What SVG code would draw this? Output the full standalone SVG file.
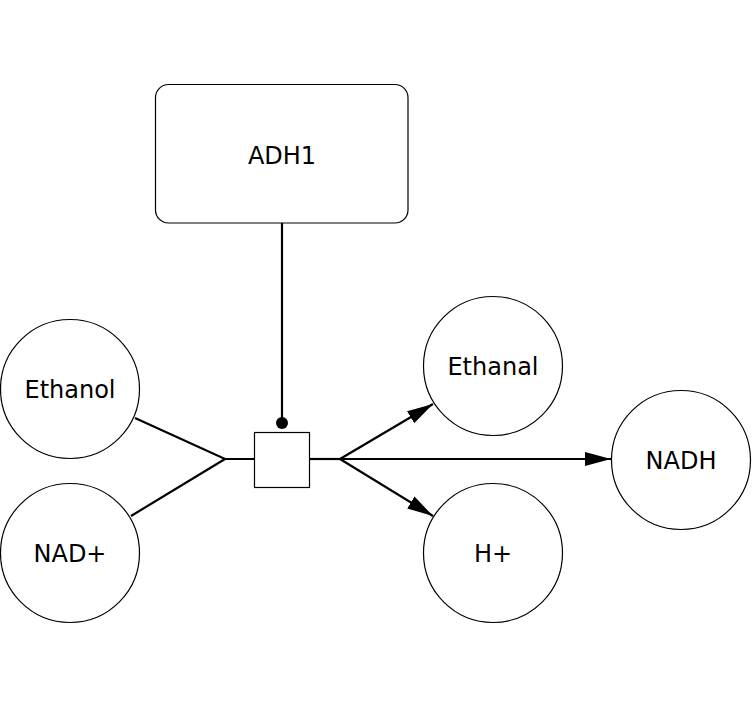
<svg xmlns="http://www.w3.org/2000/svg" width="752" height="708" viewBox="0 0 752 708">
<style>
.node{fill:#fff;stroke:#000;stroke-width:1.2}
.lbl{font-family:"DejaVu Sans",sans-serif;font-size:24px;text-anchor:middle;fill:#000}
.edge{fill:none;stroke:#000;stroke-width:2.2}
</style>
<defs>
<marker id="arr" markerUnits="userSpaceOnUse" markerWidth="28" markerHeight="16" refX="26" refY="7" orient="auto">
<path d="M0,0 L26,7 L0,14 Z" fill="#000"/>
</marker>
<marker id="dot" markerUnits="userSpaceOnUse" markerWidth="12" markerHeight="12" refX="6" refY="6" orient="auto">
<circle cx="6" cy="6" r="6" fill="#000"/>
</marker>
</defs>
<rect width="752" height="708" fill="#fff"/>
<g id="connectors">
<path class="edge" d="M282,223 L282,423" marker-end="url(#dot)"/>
<path class="edge" d="M135,418 L225,459 L254,459"/>
<path class="edge" d="M131,516 L225,459"/>
<path class="edge" d="M310,459 L340,459"/>
<path class="edge" d="M340,459 L433,404" marker-end="url(#arr)"/>
<path class="edge" d="M340,459 L611,459" marker-end="url(#arr)"/>
<path class="edge" d="M340,459 L433,516" marker-end="url(#arr)"/>
</g>
<g id="ADH1">
<rect class="node" x="155.5" y="84.5" width="252.5" height="138.5" rx="13"/>
<text class="lbl" x="282" y="164">ADH1</text>
</g>
<g id="process">
<rect class="node" x="254.5" y="432.5" width="55" height="55"/>
</g>
<g id="Ethanol">
<circle class="node" cx="70" cy="389" r="69.5"/>
<text class="lbl" x="70" y="398">Ethanol</text>
</g>
<g id="NADplus">
<circle class="node" cx="70" cy="553" r="69.5"/>
<text class="lbl" x="70" y="562">NAD+</text>
</g>
<g id="Ethanal">
<circle class="node" cx="493" cy="366" r="69.5"/>
<text class="lbl" x="493" y="375">Ethanal</text>
</g>
<g id="Hplus">
<circle class="node" cx="493" cy="553" r="69.5"/>
<text class="lbl" x="493" y="562">H+</text>
</g>
<g id="NADH">
<circle class="node" cx="681" cy="460" r="69.5"/>
<text class="lbl" x="681" y="469">NADH</text>
</g>
</svg>
